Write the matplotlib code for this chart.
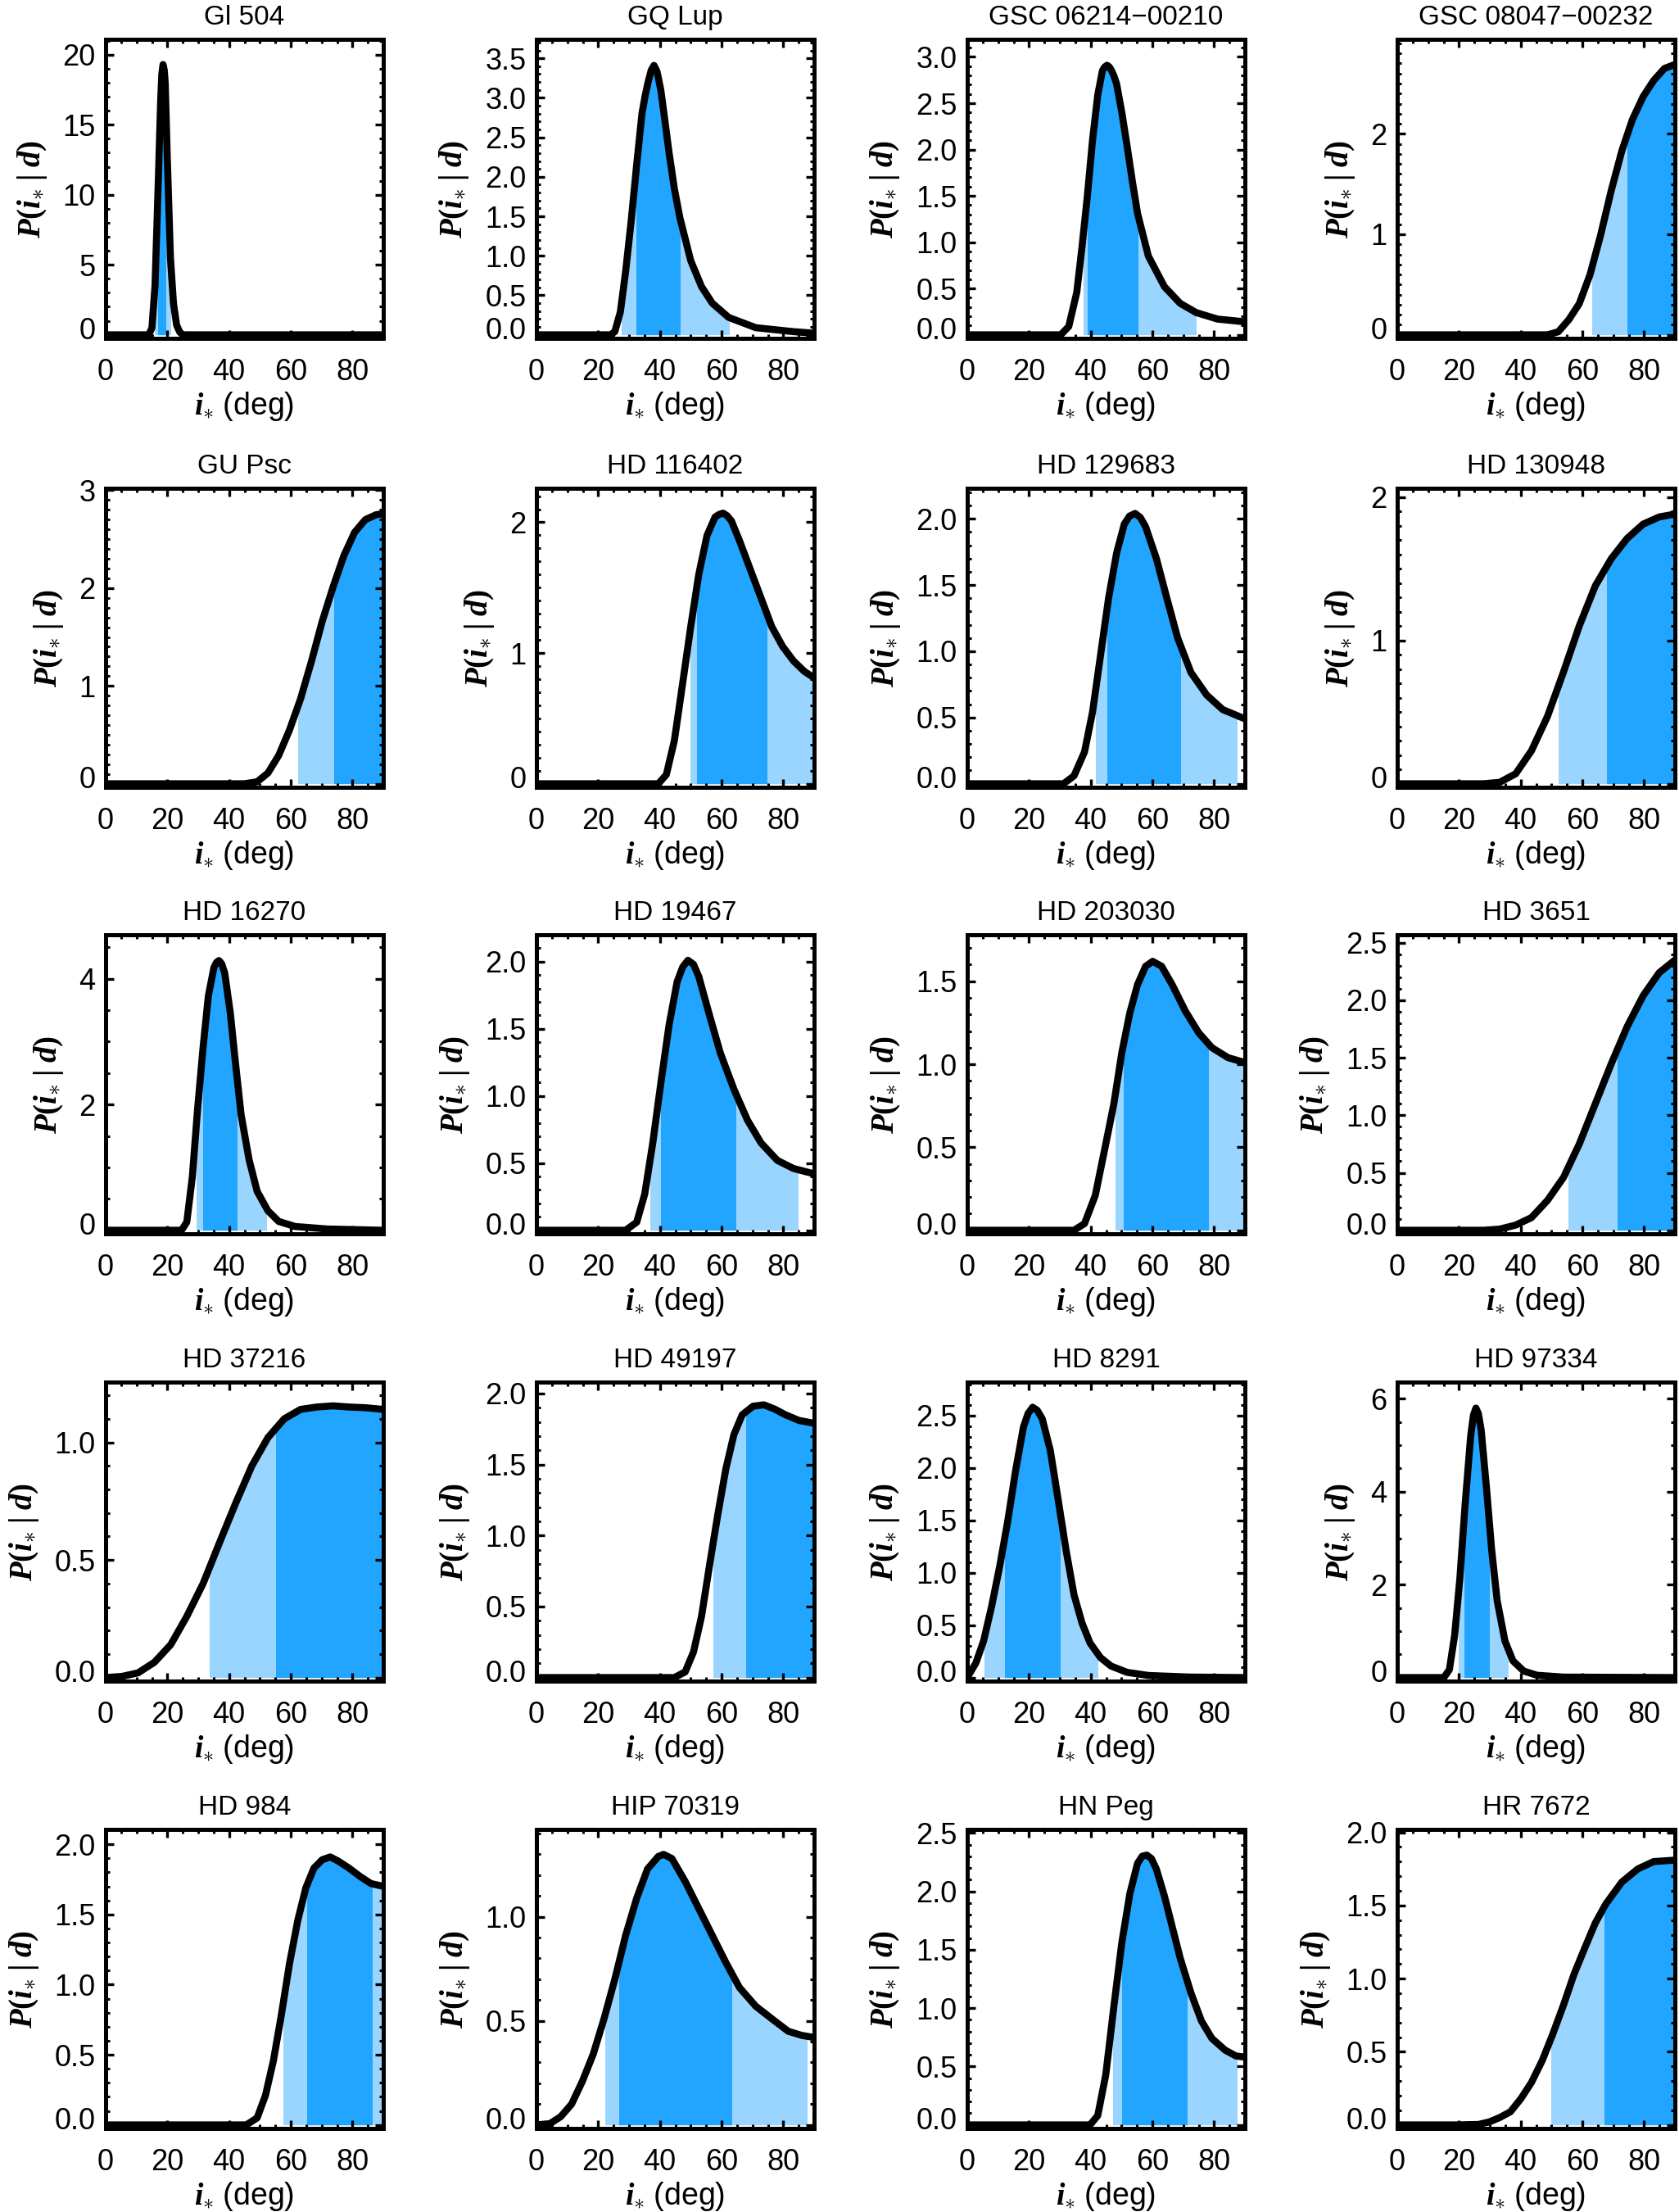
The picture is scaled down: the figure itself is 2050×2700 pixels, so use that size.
import numpy as np
import matplotlib
matplotlib.use('Agg')
import matplotlib.pyplot as plt
from matplotlib.patches import Rectangle
from matplotlib.ticker import MultipleLocator
from matplotlib.transforms import ScaledTranslation

plt.rcParams['font.family'] = ['Liberation Sans', 'DejaVu Sans']
plt.rcParams['mathtext.fontset'] = 'custom'
plt.rcParams['mathtext.it'] = 'Liberation Serif:italic:bold'
plt.rcParams['mathtext.rm'] = 'Liberation Serif:bold'
plt.rcParams['mathtext.bf'] = 'Liberation Serif:italic:bold'

# nombres de las estrellas (orden de los paneles)
names = ['Gl 504', 'GQ Lup', 'GSC 06214\u221200210', 'GSC 08047\u221200232',
         'GU Psc', 'HD 116402', 'HD 129683', 'HD 130948',
         'HD 16270', 'HD 19467', 'HD 203030', 'HD 3651',
         'HD 37216', 'HD 49197', 'HD 8291', 'HD 97334',
         'HD 984', 'HIP 70319', 'HN Peg', 'HR 7672']

# curvas P(i* | d)
gl504_x = [0, 14, 15, 16, 17, 17.8, 18.2, 18.6, 19.0, 19.3, 20, 21, 22, 23, 24, 25, 90]
gl504_y = [0, 0, 0.5, 3.5, 10.5, 16.5, 18.6, 19.3, 18.9, 18.0, 12.5, 5.5, 2.2, 0.7, 0.2, 0, 0]

gqlup_x = [0, 24, 25.4, 27.2, 28.9, 30.7, 32.5, 34.2, 35.2, 36.2, 37.2, 38.1, 39.1, 40.3,
           41.6, 43.0, 44.7, 46.5, 50.0, 53.5, 57.0, 62.3, 71.1, 83.3, 90]
gqlup_y = [0, 0, 0.04, 0.29, 0.8, 1.44, 2.16, 2.8, 3.02, 3.2, 3.35, 3.41, 3.33, 3.1,
           2.72, 2.3, 1.85, 1.48, 0.94, 0.61, 0.40, 0.22, 0.09, 0.04, 0.02]

gsc06214_x = [0, 30.3, 32.9, 35.5, 37.2, 38.9, 40.6, 42.3, 43.8, 44.5, 45.3, 46.1, 46.8,
              47.6, 48.4, 50.1, 51.8, 53.5, 55.2, 58.7, 63.9, 69.0, 74.2, 81.1, 90]
gsc06214_y = [0, 0, 0.09, 0.46, 0.95, 1.49, 2.1, 2.59, 2.85, 2.89, 2.91, 2.89, 2.85,
              2.79, 2.71, 2.4, 2.04, 1.66, 1.31, 0.85, 0.52, 0.34, 0.24, 0.17, 0.14]

gsc08047_x = [0, 48.7, 52.2, 55.6, 59.0, 62.5, 65.9, 69.4, 72.8, 76.2, 79.7, 83.1, 86.6, 90]
gsc08047_y = [0, 0, 0.03, 0.15, 0.31, 0.6, 0.99, 1.44, 1.83, 2.14, 2.37, 2.53, 2.65, 2.69]

gupsc_x = [0, 45, 49.1, 52.6, 56.1, 59.6, 63.2, 66.7, 70.2, 73.7, 77.2, 80.7, 84.2, 87.7, 90]
gupsc_y = [0, 0, 0.02, 0.11, 0.29, 0.55, 0.87, 1.25, 1.66, 2.01, 2.33, 2.57, 2.70, 2.75, 2.76]

hd116402_x = [0, 39.5, 42.1, 44.7, 47.4, 50, 52.6, 55.3, 57.9, 59.2, 60.5, 61.8, 63.2,
              65.8, 69.3, 72.8, 76.3, 79.8, 83.3, 86.8, 90]
hd116402_y = [0, 0, 0.07, 0.33, 0.77, 1.2, 1.6, 1.9, 2.04, 2.06, 2.07, 2.05, 2.01,
              1.86, 1.64, 1.42, 1.2, 1.05, 0.94, 0.86, 0.81]

hd129683_x = [0, 31.2, 34.6, 38.0, 40.6, 43.2, 45.8, 48.4, 50.9, 52.6, 54.4, 56.1, 57.8,
              61.3, 64.7, 68.2, 72.5, 77.6, 82.8, 90]
hd129683_y = [0, 0, 0.06, 0.24, 0.54, 0.97, 1.4, 1.74, 1.96, 2.02, 2.04, 2.01, 1.94,
              1.7, 1.4, 1.1, 0.84, 0.67, 0.56, 0.49]

hd130948_x = [0, 28, 33.2, 38.4, 43.5, 48.7, 53.9, 59.0, 64.2, 69.4, 74.5, 79.7, 84.9, 90]
hd130948_y = [0, 0, 0.01, 0.07, 0.23, 0.47, 0.78, 1.10, 1.38, 1.57, 1.71, 1.81, 1.86, 1.88]

hd16270_x = [0, 24.6, 26.3, 28.1, 29.8, 31.6, 33.3, 35.1, 35.9, 36.7, 37.6, 38.6, 40.4,
             42.1, 43.9, 46.5, 49.1, 52.6, 56.1, 61.4, 71.9, 90]
hd16270_y = [0, 0, 0.13, 0.85, 1.93, 2.92, 3.73, 4.18, 4.26, 4.29, 4.24, 4.09, 3.46,
             2.65, 1.84, 1.12, 0.62, 0.31, 0.14, 0.06, 0.02, 0]

hd19467_x = [0, 28.9, 32.5, 35.1, 37.7, 40.4, 43.0, 45.6, 47.4, 49.1, 50.9, 52.6, 56.1,
             59.6, 64.0, 68.4, 72.8, 78.1, 83.3, 90]
hd19467_y = [0, 0, 0.06, 0.27, 0.65, 1.11, 1.53, 1.85, 1.96, 2.01, 1.98, 1.89, 1.6,
             1.32, 1.05, 0.82, 0.65, 0.52, 0.46, 0.42]

hd203030_x = [0, 34.6, 38.0, 41.5, 44.9, 47.5, 50.1, 52.7, 55.2, 57.8, 60.1, 63.0, 66.4,
              70.7, 75.0, 79.3, 84.5, 90]
hd203030_y = [0, 0, 0.04, 0.21, 0.52, 0.76, 1.07, 1.31, 1.48, 1.59, 1.62, 1.59, 1.48,
              1.32, 1.19, 1.10, 1.04, 1.01]

hd3651_x = [0, 28, 33.2, 38.4, 43.5, 48.7, 53.9, 59.0, 64.2, 69.4, 74.5, 79.7, 84.9, 90]
hd3651_y = [0, 0, 0.01, 0.045, 0.11, 0.26, 0.46, 0.75, 1.1, 1.45, 1.77, 2.04, 2.24, 2.35]

hd37216_x = [0, 5.3, 10.5, 15.8, 21.1, 26.3, 31.6, 36.8, 42.1, 47.4, 52.6, 57.9, 63.2,
             68.4, 73.7, 78.9, 84.2, 90]
hd37216_y = [0, 0.005, 0.02, 0.065, 0.14, 0.26, 0.40, 0.57, 0.74, 0.9, 1.02, 1.10, 1.14,
             1.15, 1.155, 1.15, 1.147, 1.14]

hd49197_x = [0, 44.7, 48.2, 50.9, 53.5, 56.1, 58.8, 61.4, 64.0, 66.7, 70.2, 73.7, 77.2,
             80.7, 85.1, 90]
hd49197_y = [0, 0, 0.04, 0.18, 0.43, 0.79, 1.15, 1.47, 1.71, 1.85, 1.91, 1.92, 1.89,
             1.85, 1.81, 1.79]

hd8291_x = [0, 2.8, 5.3, 7.9, 10.5, 13.1, 15.7, 18.2, 19.7, 21.2, 22.7, 24.3, 26.9, 29.4,
            32.0, 34.6, 37.2, 39.8, 43.2, 46.6, 51.8, 58.7, 72, 90]
hd8291_y = [0, 0.14, 0.35, 0.68, 1.06, 1.49, 1.98, 2.39, 2.52, 2.58, 2.55, 2.47, 2.17, 1.71,
            1.22, 0.79, 0.52, 0.33, 0.19, 0.11, 0.05, 0.02, 0.005, 0]

hd97334_x = [0, 15.1, 16.9, 18.6, 20.3, 22.0, 23.8, 24.7, 25.5, 26.3, 27.2, 28.9, 30.6,
             32.4, 34.9, 37.5, 41.0, 45.3, 53.9, 90]
hd97334_y = [0, 0, 0.17, 0.91, 2.14, 3.73, 5.2, 5.65, 5.8, 5.68, 5.33, 4.1, 2.75,
             1.65, 0.79, 0.36, 0.14, 0.05, 0.01, 0]

hd984_x = [0, 45.6, 49.1, 51.8, 54.4, 57.0, 59.6, 62.3, 64.9, 67.5, 70.2, 72.8, 75.4,
           78.9, 82.5, 86.0, 90]
hd984_y = [0, 0, 0.05, 0.21, 0.46, 0.79, 1.15, 1.46, 1.69, 1.83, 1.89, 1.91, 1.88,
           1.83, 1.77, 1.72, 1.70]

hip70319_x = [0, 4.4, 7.9, 11.4, 14.9, 18.4, 21.9, 25.4, 28.9, 32.5, 36.0, 39.5, 41.2,
              43.9, 48.2, 52.6, 57.0, 61.4, 65.8, 71.1, 76.3, 81.6, 86.0, 90]
hip70319_y = [0, 0.006, 0.04, 0.1, 0.21, 0.34, 0.51, 0.70, 0.91, 1.09, 1.23, 1.29, 1.30,
              1.28, 1.17, 1.04, 0.91, 0.78, 0.66, 0.57, 0.51, 0.45, 0.43, 0.42]

hnpeg_x = [0, 39.8, 42.3, 44.9, 47.5, 50.1, 52.7, 55.2, 56.7, 58.2, 59.7, 61.3, 63.9,
           66.4, 69.0, 72.5, 75.9, 79.3, 83.6, 87.1, 90]
hnpeg_y = [0, 0, 0.08, 0.43, 1.01, 1.56, 1.98, 2.24, 2.30, 2.31, 2.28, 2.19, 1.96,
           1.70, 1.43, 1.13, 0.89, 0.74, 0.64, 0.59, 0.58]

hr7672_x = [0, 19.4, 26.3, 29.8, 33.2, 36.7, 40.1, 43.5, 47.0, 50.4, 53.9, 57.3, 60.8,
            64.2, 67.6, 72.8, 78.0, 83.1, 90]
hr7672_y = [0, 0, 0.003, 0.02, 0.05, 0.09, 0.18, 0.29, 0.44, 0.62, 0.82, 1.03, 1.21,
            1.38, 1.51, 1.66, 1.75, 1.80, 1.81]

curves = [(gl504_x, gl504_y), (gqlup_x, gqlup_y), (gsc06214_x, gsc06214_y),
          (gsc08047_x, gsc08047_y), (gupsc_x, gupsc_y), (hd116402_x, hd116402_y),
          (hd129683_x, hd129683_y), (hd130948_x, hd130948_y), (hd16270_x, hd16270_y),
          (hd19467_x, hd19467_y), (hd203030_x, hd203030_y), (hd3651_x, hd3651_y),
          (hd37216_x, hd37216_y), (hd49197_x, hd49197_y), (hd8291_x, hd8291_y),
          (hd97334_x, hd97334_y), (hd984_x, hd984_y), (hip70319_x, hip70319_y),
          (hnpeg_x, hnpeg_y), (hr7672_x, hr7672_y)]

# intervalos de confianza (grados)
ci95 = [(15.9, 20.9), (27.5, 62.3), (37.7, 74.2), (63.3, 90), (62.3, 90),
        (50.0, 90), (41.8, 87.4), (52.2, 90), (29.5, 52.1), (36.8, 84.7),
        (48.0, 90), (55.6, 90), (33.7, 90), (57.4, 90), (5.7, 42.2),
        (19.8, 35.8), (57.5, 90), (22.3, 87.7), (47.2, 87.4), (49.9, 90)]
ci68 = [(17.0, 19.4), (32.5, 46.5), (38.9, 55.1), (74.5, 90), (74.0, 90),
        (52.1, 74.6), (45.3, 69.0), (68.0, 90), (31.6, 42.5), (40.4, 64.6),
        (50.6, 78.0), (71.4, 90), (55.3, 90), (67.9, 90), (12.2, 30.1),
        (21.7, 29.8), (65.3, 86.3), (26.8, 63.2), (50.1, 71.1), (67.1, 90)]

# eje y de cada panel
ytop = [21.1, 3.74, 3.19, 2.94, 3.02, 2.26, 2.23, 2.06, 4.7, 2.2,
        1.78, 2.57, 1.256, 2.08, 2.82, 6.36, 2.106, 1.42, 2.53, 2.02]
ystep = [5, 0.5, 0.5, 1, 1, 1, 0.5, 1, 2, 0.5,
         0.5, 0.5, 0.5, 0.5, 0.5, 2, 0.5, 0.5, 0.5, 0.5]
yminor = [1, 0.1, 0.1, 0.1, 0.1, 0.1, 0.1, 0.1, 0.5, 0.1,
          0.1, 0.1, 0.1, 0.1, 0.1, 0.5, 0.1, 0.1, 0.1, 0.1]

light = '#9ad5ff'
dark = '#22a5ff'

fig = plt.figure(figsize=(20.5, 27), dpi=100)
W, H = 2050, 2700
lefts = [129, 655, 1181, 1706]
tops = [48, 596, 1141, 1687, 2233]
aw, ah = 339, 365
shift_up = ScaledTranslation(0, 8 / 100, fig.dpi_scale_trans)

for k, name in enumerate(names):
    r, c = divmod(k, 4)
    ax = fig.add_axes([lefts[c] / W, 1 - (tops[r] + ah) / H, aw / W, ah / H])
    x, y = curves[k]
    ylo = -0.012 * ytop[k]

    for (a, b), col in [(ci95[k], light), (ci68[k], dark)]:
        f = ax.fill_between(x, 0, y, color=col, lw=0, zorder=1)
        f.set_clip_path(Rectangle((a, ylo), b - a, ytop[k] - ylo, transform=ax.transData))
    ax.plot(x, y, color='black', lw=6.2, solid_joinstyle='round', zorder=3)

    ax.set_xlim(0, 90)
    ax.set_ylim(ylo, ytop[k])
    ax.set_xticks([0, 20, 40, 60, 80])
    ax.xaxis.set_minor_locator(MultipleLocator(5))
    ticks = np.arange(0, ytop[k] + 1e-9, ystep[k])
    if ystep[k] < 1:
        labels = ['%.1f' % t for t in ticks]
    else:
        labels = ['%d' % round(t) for t in ticks]
    ax.set_yticks(ticks, labels)
    ax.yaxis.set_minor_locator(MultipleLocator(yminor[k]))

    ax.tick_params(which='both', direction='in', top=True, right=True,
                   labelsize=26)
    ax.tick_params(which='major', length=7.5, width=2.4)
    ax.tick_params(which='minor', length=3.8, width=2.2)
    ax.tick_params(axis='x', which='major', pad=17)
    ax.tick_params(axis='y', which='major', pad=9)
    for s in ax.spines.values():
        s.set_linewidth(3.6)
        s.set_zorder(4)

    # la etiqueta del cero va un poco por encima de su marca
    lab0 = ax.yaxis.get_major_ticks()[0].label1
    lab0.set_transform(lab0.get_transform() + shift_up)

    ax.set_title(name, fontsize=24, pad=13)
    ax.set_xlabel(r'$i_{\ast}$ (deg)', fontsize=27, labelpad=3)
    ax.set_ylabel(r'$P(i_{\ast}\;|\;d)$', fontsize=28, labelpad=12)

fig.savefig('out.png', dpi=100)
